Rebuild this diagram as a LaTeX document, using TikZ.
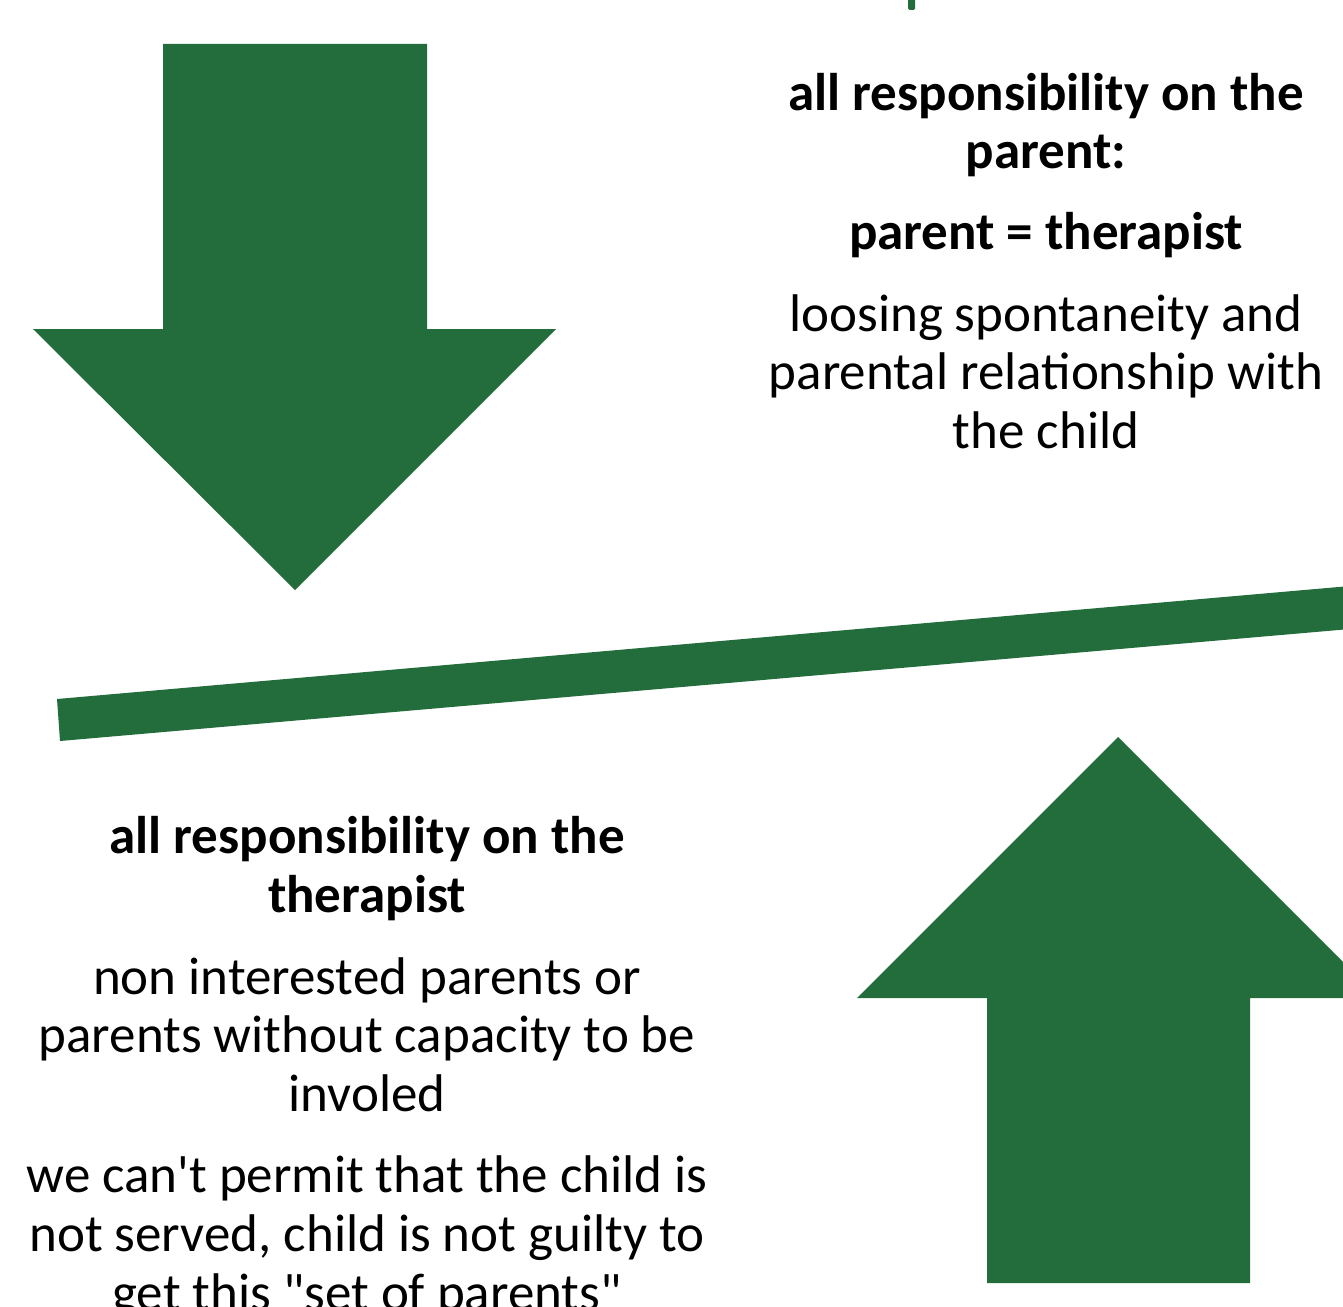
\documentclass[tikz,border=0pt]{standalone}
\usepackage{fontspec}
\setmainfont[Ligatures=TeXOff]{Carlito}
\definecolor{sgreen}{RGB}{35,108,60}
\begin{document}
\begin{tikzpicture}[x=1pt,y=-1pt,
  txt/.style={anchor=base,inner sep=0pt,font=\fontsize{53}{58}\selectfont},
  btxt/.style={txt,font=\fontsize{53}{58}\selectfont\bfseries},
  greenfill/.style={fill=sgreen,draw=none}]
\useasboundingbox (0,0) rectangle (1343,1306);
\clip (0,0) rectangle (1343,1306);
% top tick
\fill[sgreen,rounded corners=1.5pt] (908,-5) rectangle (915,10);
% down arrow
\path[greenfill] (163,44) -- (427,44) -- (427,329) -- (556,329) -- (295,590) -- (33,329) -- (163,329) -- cycle;
% up arrow
\path[greenfill] (1118,737) -- (1379,998) -- (1250,998) -- (1250,1283) -- (987,1283) -- (987,998) -- (857,998) -- cycle;
% bar
\path[greenfill] (57,699) -- (1350,586) -- (1350,629) -- (60,741) -- cycle;
% right block
\node[btxt] (r1) at (1046,110) {all responsibility on the};
\node[btxt] (r2) at (1046,168) {parent:};
\node[btxt] (r3) at (1046,249) {parent = therapist};
\node[txt] (r4) at (1046,331) {loosing spontaneity and};
\node[txt] (r5) at (1046,389) {parental relationship with};
\node[txt] (r6) at (1046,448) {the child};
% left block
\node[btxt] (l1) at (367,853) {all responsibility on the};
\node[btxt] (l2) at (367,912) {therapist};
\node[txt] (l3) at (367,994) {non interested parents or};
\node[txt] (l4) at (367,1052) {parents without capacity to be};
\node[txt] (l5) at (367,1111) {involed};
\node[txt] (l6) at (367,1192) {we can't permit that the child is};
\node[txt] (l7) at (367,1251) {not served, child is not guilty to};
\node[txt] (l8) at (367,1310) {get this "set of parents"};
\end{tikzpicture}
\end{document}
